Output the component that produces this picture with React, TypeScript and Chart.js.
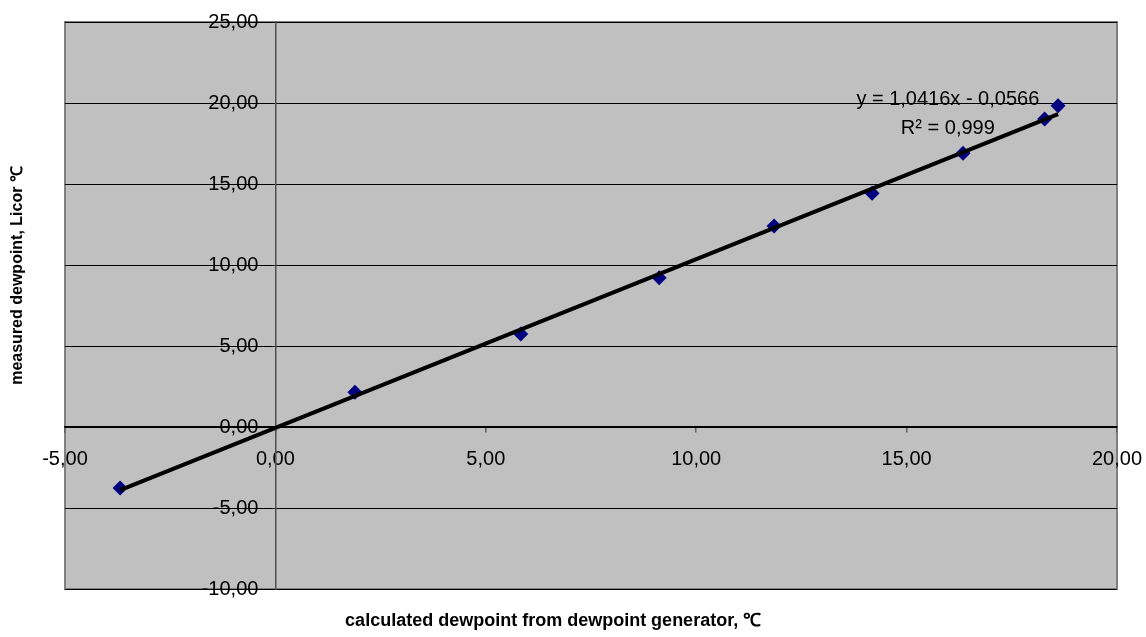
import React, { useEffect, useRef } from 'react';
import { Chart, registerables } from 'chart.js';

Chart.register(...registerables);

// ---- data ----
const calculatedDewpoint = [-3.69, 1.89, 5.83, 9.12, 11.85, 14.18, 16.34, 18.28, 18.6];
const measuredDewpoint = [-3.77, 2.14, 5.74, 9.22, 12.41, 14.43, 16.9, 19.01, 19.83];
const xTickValues = [-5, 0, 5, 10, 15, 20];
const yTickValues = [-10, -5, 0, 5, 10, 15, 20, 25];
const trendSlope = 1.0416;
const trendIntercept = -0.0566;
const trendEquation = 'y = 1,0416x - 0,0566';
const trendR2 = 'R² = 0,999';
const trendLabelAnchor = [15.98, 20.2, 18.45]; // x, y of equation line, y of R² line (data units)
const xTitle = 'calculated dewpoint from dewpoint generator, ℃';
const yTitle = 'measured dewpoint, Licor ℃';

const FONT = "'Liberation Sans', Arial, sans-serif";
const Y_LABEL_GAP = 17;
const fmt = (v: number) => v.toFixed(2).replace('.', ',');

const plotDecor = {
  id: 'plotDecor',
  beforeDraw(chart: any) {
    const { ctx, chartArea: a } = chart;
    // y labels of an axis placed at x = 0 are drawn flush to the axis; move them left of the tick marks
    const items = chart.scales.y.getLabelItems();
    if (!items._shifted) {
      items.forEach((it: any) => {
        it.options.translation[0] -= Y_LABEL_GAP;
      });
      items._shifted = true;
    }
    ctx.save();
    ctx.fillStyle = '#C0C0C0';
    ctx.fillRect(a.left, a.top, a.right - a.left, a.bottom - a.top);
    ctx.strokeStyle = '#808080';
    ctx.lineWidth = 2;
    ctx.strokeRect(a.left, a.top, a.right - a.left, a.bottom - a.top);
    ctx.restore();
  },
  afterDraw(chart: any) {
    const { ctx, chartArea: a, scales } = chart;
    ctx.save();
    ctx.fillStyle = '#000';
    ctx.font = `20px ${FONT}`;
    ctx.textAlign = 'center';
    ctx.textBaseline = 'middle';
    const lx = scales.x.getPixelForValue(trendLabelAnchor[0]);
    ctx.fillText(trendEquation, lx, scales.y.getPixelForValue(trendLabelAnchor[1]));
    ctx.fillText(trendR2, lx, scales.y.getPixelForValue(trendLabelAnchor[2]));

    ctx.font = `bold 18px ${FONT}`;
    ctx.fillText(xTitle, a.left + (a.right - a.left) * 0.464, a.bottom + 32);
    ctx.font = `bold 16px ${FONT}`;
    ctx.translate(a.left - 47, a.top + (a.bottom - a.top) * 0.447);
    ctx.rotate(-Math.PI / 2);
    ctx.fillText(yTitle, 0, 0);
    ctx.restore();
  },
};

export default function App() {
  const ref = useRef<HTMLCanvasElement | null>(null);

  useEffect(() => {
    if (!ref.current) return;
    const xs = calculatedDewpoint;
    const xMin = Math.min(...xs);
    const xMax = Math.max(...xs);
    const chart = new Chart(ref.current, {
      type: 'scatter',
      data: {
        datasets: [
          {
            type: 'line',
            label: 'trend',
            data: [
              { x: xMin, y: trendSlope * xMin + trendIntercept },
              { x: xMax, y: trendSlope * xMax + trendIntercept },
            ],
            borderColor: '#000',
            borderWidth: 4,
            pointRadius: 0,
            fill: false,
            order: 0,
          },
          {
            label: 'measured',
            data: xs.map((x, i) => ({ x, y: measuredDewpoint[i] })),
            pointStyle: 'rectRot',
            pointRadius: 7.5,
            backgroundColor: '#000080',
            borderColor: '#000080',
            borderWidth: 0,
            order: 1,
          },
        ],
      },
      options: {
        animation: false,
        responsive: true,
        maintainAspectRatio: false,
        layout: { padding: { left: 65, top: 22, right: 29, bottom: 48 } },
        plugins: { legend: { display: false }, tooltip: { enabled: false } },
        scales: {
          x: {
            type: 'linear',
            min: -5,
            max: 20,
            position: { y: 0 },
            afterBuildTicks: (s: any) => {
              s.ticks = xTickValues.map((v) => ({ value: v }));
            },
            afterFit: (s: any) => {
              s.paddingLeft = 0;
              s.paddingRight = 0;
            },
            ticks: {
              autoSkip: false,
              maxRotation: 0,
              padding: 15,
              color: '#000',
              font: { family: FONT, size: 20 },
              callback: (v: any) => fmt(Number(v)),
            },
            grid: { drawOnChartArea: false, drawTicks: true, tickLength: 5, color: '#606060', lineWidth: 1.5 },
            border: { display: true, color: '#000', width: 1.5 },
          },
          y: {
            type: 'linear',
            min: -10,
            max: 25,
            position: { x: 0 },
            afterBuildTicks: (s: any) => {
              s.ticks = yTickValues.map((v) => ({ value: v }));
            },
            afterFit: (s: any) => {
              s.paddingTop = 0;
              s.paddingBottom = 0;
            },
            ticks: {
              autoSkip: false,
              padding: 10,
              color: '#000',
              font: { family: FONT, size: 20 },
              callback: (v: any) => fmt(Number(v)),
            },
            grid: {
              drawOnChartArea: true,
              drawTicks: true,
              tickLength: 5,
              color: '#000',
              lineWidth: 1,
            },
            border: { display: true, color: '#505050', width: 1.5 },
          },
        },
      },
      plugins: [plotDecor],
    });
    return () => chart.destroy();
  }, []);

  return (
    <div style={{ position: 'fixed', left: 0, top: 0, width: 1146, height: 637, background: '#fff' }}>
      <canvas ref={ref} />
    </div>
  );
}
